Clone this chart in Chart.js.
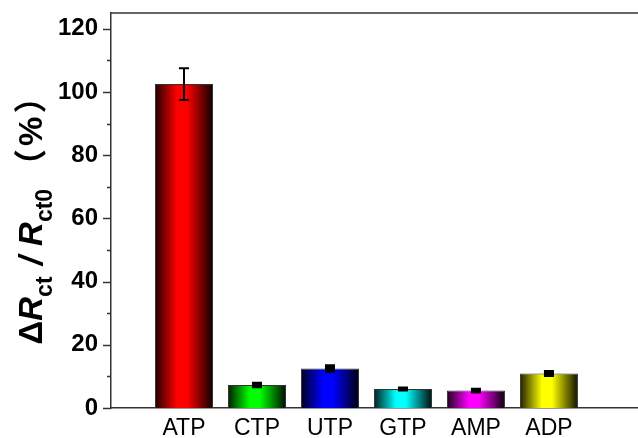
<!DOCTYPE html>
<html>
<head>
<meta charset="utf-8">
<script src="https://cdn.jsdelivr.net/npm/chart.js@4/dist/chart.umd.min.js"></script>
<style>
  html, body { margin: 0; padding: 0; background: #ffffff; }
  #wrap { width: 638px; height: 438px; }
</style>
</head>
<body>
<div id="wrap"><canvas id="c" width="638" height="438"></canvas></div>
<script>
// Relative change of charge-transfer resistance for each nucleotide
const categories = ['ATP', 'CTP', 'UTP', 'GTP', 'AMP', 'ADP'];
const values = [102.5, 7.3, 12.5, 6.0, 5.5, 10.9];
const errors = [5.0, 0.7, 1.0, 0.5, 0.6, 0.8];
const barColors = ['#ff0000', '#00ff00', '#0000ff', '#00ffff', '#ff00ff', '#ffff00'];
const majorTicks = [0, 20, 40, 60, 80, 100, 120];
const minorTicks = [10, 30, 50, 70, 90, 110];

const BAR_FRACTION = 0.795;
const AXIS_COLOR = '#333333';

function shade(hex, f) {
  const n = parseInt(hex.slice(1), 16);
  const r = Math.round(((n >> 16) & 255) * f);
  const g = Math.round(((n >> 8) & 255) * f);
  const b = Math.round((n & 255) * f);
  return `rgb(${r},${g},${b})`;
}

// Horizontal shading: dark at both edges, full colour in the middle
function barFill(ctx) {
  const chart = ctx.chart;
  const base = barColors[ctx.dataIndex % barColors.length];
  const xs = chart.scales && chart.scales.x;
  if (!xs || !chart.chartArea || ctx.type !== 'data') return base;
  const cx = xs.getPixelForValue(ctx.dataIndex + 1);
  const half = (xs.getPixelForValue(1) - xs.getPixelForValue(0)) * BAR_FRACTION / 2;
  if (!isFinite(cx) || !isFinite(half)) return base;
  const g = chart.ctx.createLinearGradient(cx - half, 0, cx + half, 0);
  g.addColorStop(0, shade(base, 0.12));
  g.addColorStop(0.38, base);
  g.addColorStop(0.55, base);
  g.addColorStop(1, shade(base, 0.05));
  return g;
}

const framePlugin = {
  id: 'frame',
  afterDraw(chart) {
    const { ctx, chartArea, scales } = chart;
    const y = scales.y;
    ctx.save();
    // top frame line
    ctx.strokeStyle = AXIS_COLOR;
    ctx.lineWidth = 1.5;
    ctx.beginPath();
    ctx.moveTo(chartArea.left, chartArea.top);
    ctx.lineTo(chartArea.right, chartArea.top);
    ctx.stroke();
    // outward tick marks on the value axis
    const drawTick = (v, len) => {
      const py = Math.round(y.getPixelForValue(v)) + 0.5;
      ctx.beginPath();
      ctx.moveTo(chartArea.left, py);
      ctx.lineTo(chartArea.left - len, py);
      ctx.stroke();
    };
    majorTicks.forEach(v => drawTick(v, 8));
    minorTicks.forEach(v => drawTick(v, 4));
    ctx.restore();
  }
};

const errorBarPlugin = {
  id: 'errorBars',
  afterDatasetsDraw(chart) {
    const { ctx, scales } = chart;
    const x = scales.x, y = scales.y;
    ctx.save();
    ctx.strokeStyle = '#000000';
    ctx.fillStyle = '#000000';
    ctx.lineWidth = 2;
    values.forEach((v, i) => {
      const px = x.getPixelForValue(i + 1);
      const top = y.getPixelForValue(v + errors[i]);
      const bot = y.getPixelForValue(v - errors[i]);
      ctx.beginPath();
      ctx.moveTo(px, top); ctx.lineTo(px, bot);
      ctx.moveTo(px - 5, top); ctx.lineTo(px + 5, top);
      ctx.moveTo(px - 5, bot); ctx.lineTo(px + 5, bot);
      ctx.stroke();
      // short spans read as a solid marker
      if (bot - top < 8) ctx.fillRect(px - 5, top, 10, bot - top);
    });
    ctx.restore();
  }
};

// Rotated axis title with italic R and subscripts
const titlePlugin = {
  id: 'yTitle',
  afterDraw(chart) {
    const { ctx, chartArea } = chart;
    const main = 33, sub = 23, drop = 10;
    const parts = [
      { t: '\u0394', f: `bold ${main}px "Liberation Sans"`, dy: 0 },
      { t: 'R', f: `bold italic ${main}px "Liberation Sans"`, dy: 0 },
      { t: 'ct', f: `bold ${sub}px "Liberation Sans"`, dy: drop, gap: 2 },
      { t: ' / ', f: `bold italic ${main}px "Liberation Sans"`, dy: 0, gap: 1 },
      { t: 'R', f: `bold italic ${main}px "Liberation Sans"`, dy: 0 },
      { t: 'ct0', f: `bold ${sub}px "Liberation Sans"`, dy: drop, gap: 7 },
      { t: '\uFF08', f: `bold ${main}px "Noto Sans CJK SC"`, dy: 0, gap: 3 },
      { t: '%', f: `bold ${main}px "Liberation Sans"`, dy: 0, gap: 3 },
      { t: '\uFF09', f: `bold ${main}px "Noto Sans CJK SC"`, dy: 0 }
    ];
    ctx.save();
    let total = 0;
    parts.forEach(p => { ctx.font = p.f; p.w = ctx.measureText(p.t).width + (p.gap || 0); total += p.w; });
    const cy = (chartArea.top + chartArea.bottom) / 2;
    ctx.translate(42, cy + 2);
    ctx.rotate(-Math.PI / 2);
    ctx.fillStyle = '#000000';
    ctx.textBaseline = 'alphabetic';
    let xo = -total / 2;
    parts.forEach(p => {
      ctx.font = p.f;
      ctx.fillText(p.t, xo, p.dy);
      xo += p.w;
    });
    ctx.restore();
  }
};

new Chart(document.getElementById('c'), {
  type: 'bar',
  data: {
    datasets: [{
      data: values.map((v, i) => ({ x: i + 1, y: v })),
      backgroundColor: barFill,
      borderColor: AXIS_COLOR,
      borderWidth: 1,
      barPercentage: BAR_FRACTION,
      categoryPercentage: 1
    }]
  },
  options: {
    responsive: false,
    animation: false,
    layout: { padding: { top: 13, right: 0, left: 0, bottom: 0 } },
    plugins: { legend: { display: false }, tooltip: { enabled: false } },
    scales: {
      x: {
        type: 'linear',
        offset: false,
        min: 0,
        max: 7.22,
        grid: { display: false, drawTicks: false, offset: false },
        border: { display: true, color: AXIS_COLOR, width: 1.5 },
        ticks: {
          stepSize: 1,
          autoSkip: false,
          maxRotation: 0,
          padding: 7,
          color: '#000000',
          font: { family: '"Liberation Sans"', size: 23 },
          callback: v => categories[v - 1] || ''
        },
        afterFit: s => { s.height = 30; s.paddingLeft = 0; s.paddingRight = 0; }
      },
      y: {
        min: 0,
        max: 125,
        grid: { display: false, drawTicks: false },
        border: { display: true, color: AXIS_COLOR, width: 1.5 },
        ticks: {
          stepSize: 10,
          includeBounds: false,
          autoSkip: false,
          padding: 13,
          color: '#000000',
          font: { family: '"Liberation Sans"', size: 24, weight: 'bold' },
          callback: v => (majorTicks.includes(v) ? String(v) : '')
        },
        afterFit: s => { s.width = 111; s.paddingTop = 0; s.paddingBottom = 0; }
      }
    }
  },
  plugins: [framePlugin, errorBarPlugin, titlePlugin]
});
</script>
</body>
</html>
